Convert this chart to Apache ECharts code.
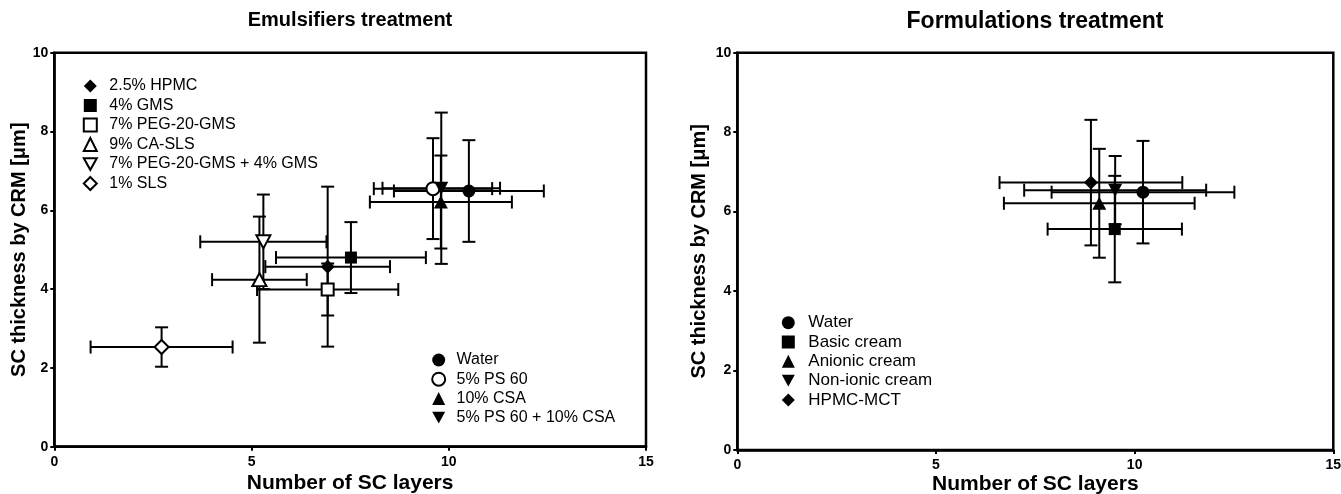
<!DOCTYPE html>
<html>
<head>
<meta charset="utf-8">
<script src="https://cdn.jsdelivr.net/npm/echarts@6/dist/echarts.min.js"></script>
<style>
  html, body { margin: 0; padding: 0; background: #fff; }
  #chart { width: 1341px; height: 494px; }
</style>
</head>
<body>
<div id="chart"></div>
<script>
// Emulsifiers: mean number of SC layers (± SD) against SC thickness by CRM (± SD, µm)
const emulsifierNames = ['2.5% HPMC', '4% GMS', '7% PEG-20-GMS', '9% CA-SLS', '7% PEG-20-GMS + 4% GMS', '1% SLS',
                         'Water', '5% PS 60', '10% CSA', '5% PS 60 + 10% CSA'];
const emulsifierLayers      = [6.93, 7.52, 6.93, 5.20, 5.30, 2.72, 10.51, 9.60, 9.80, 9.81];
const emulsifierLayersSd    = [1.58, 1.90, 1.79, 1.20, 1.60, 1.80, 1.90, 1.50, 1.80, 1.49];
const emulsifierThickness   = [4.57, 4.80, 3.99, 4.24, 5.20, 2.53, 6.49, 6.55, 6.21, 6.56];
const emulsifierThicknessSd = [2.03, 0.90, 0.66, 1.60, 1.20, 0.50, 1.29, 1.28, 1.18, 1.92];

// Formulations: same measures
const formulationNames = ['Water', 'Basic cream', 'Anionic cream', 'Non-ionic cream', 'HPMC-MCT'];
const formulationLayers      = [10.21, 9.50, 9.11, 9.51, 8.90];
const formulationLayersSd    = [2.30, 1.69, 2.40, 2.29, 2.30];
const formulationThickness   = [6.49, 5.56, 6.21, 6.54, 6.73];
const formulationThicknessSd = [1.29, 1.34, 1.37, 0.86, 1.58];

// Axis ranges: [min, max, step]
const layerAxis = [0, 15, 5];
const thicknessAxis = [0, 10, 2];

const FONT = '"Liberation Sans", Arial, Helvetica, sans-serif';
const DOWN_TRIANGLE = 'path://M0,0L20,0L10,18Z';

// Marker look for each treatment
const markerStyle = {
  '2.5% HPMC': { symbol: 'diamond', fill: true },
  '4% GMS': { symbol: 'rect', fill: true },
  '7% PEG-20-GMS': { symbol: 'rect', fill: false },
  '9% CA-SLS': { symbol: 'triangle', fill: false },
  '7% PEG-20-GMS + 4% GMS': { symbol: DOWN_TRIANGLE, fill: false },
  '1% SLS': { symbol: 'diamond', fill: false },
  'Water': { symbol: 'circle', fill: true },
  '5% PS 60': { symbol: 'circle', fill: false },
  '10% CSA': { symbol: 'triangle', fill: true },
  '5% PS 60 + 10% CSA': { symbol: DOWN_TRIANGLE, fill: true },
  'Basic cream': { symbol: 'rect', fill: true },
  'Anionic cream': { symbol: 'triangle', fill: true },
  'Non-ionic cream': { symbol: DOWN_TRIANGLE, fill: true },
  'HPMC-MCT': { symbol: 'diamond', fill: true }
};
function sizeOf(symbol) {
  if (symbol === 'circle') return 13;
  if (symbol === 'rect') return 12;
  if (symbol === 'diamond') return 14;
  return [14, 13];
}

function renderErrorBars(params, api) {
  const x = api.value(0), y = api.value(1), dx = api.value(2), dy = api.value(3);
  const l = api.coord([x - dx, y]), r = api.coord([x + dx, y]);
  const t = api.coord([x, y + dy]), b = api.coord([x, y - dy]);
  const cap = 6.5;
  const style = { stroke: '#000', lineWidth: 2, fill: null };
  const seg = (x1, y1, x2, y2) => ({ type: 'line', shape: { x1, y1, x2, y2 }, style });
  return {
    type: 'group',
    children: [
      seg(l[0], l[1], r[0], r[1]),
      seg(l[0], l[1] - cap, l[0], l[1] + cap),
      seg(r[0], r[1] - cap, r[0], r[1] + cap),
      seg(t[0], t[1], b[0], b[1]),
      seg(t[0] - cap, t[1], t[0] + cap, t[1]),
      seg(b[0] - cap, b[1], b[0] + cap, b[1])
    ]
  };
}

function errorBarSeries(axisIndex, xs, xsd, ys, ysd) {
  return {
    type: 'custom',
    xAxisIndex: axisIndex,
    yAxisIndex: axisIndex,
    z: 1,
    silent: true,
    encode: { x: 0, y: 1 },
    data: xs.map((x, i) => [x, ys[i], xsd[i], ysd[i]]),
    renderItem: renderErrorBars
  };
}

function markerSeries(axisIndex, names, xs, ys) {
  return names.map((name, i) => {
    const m = markerStyle[name];
    return {
      type: 'scatter',
      name: name,
      xAxisIndex: axisIndex,
      yAxisIndex: axisIndex,
      z: 3,
      silent: true,
      symbol: m.symbol,
      symbolSize: sizeOf(m.symbol),
      itemStyle: m.fill
        ? { color: '#000', borderWidth: 0, opacity: 1 }
        : { color: '#fff', borderColor: '#000', borderWidth: 2, opacity: 1 },
      data: [[xs[i], ys[i]]]
    };
  });
}

function valueAxis(axisIndex, range, name, nameGap, nameSize, isX) {
  return {
    type: 'value',
    gridIndex: axisIndex,
    min: range[0],
    max: range[1],
    interval: range[2],
    name: name,
    nameLocation: 'middle',
    nameGap: nameGap,
    nameMoveOverlap: false,
    nameTextStyle: { fontFamily: FONT, fontWeight: 'bold', fontSize: nameSize, color: '#000' },
    axisLine: { show: true, onZero: false, lineStyle: { color: '#000', width: 2.5 } },
    axisTick: { show: true, inside: false, length: 4, lineStyle: { color: '#000', width: 2 } },
    axisLabel: { fontFamily: FONT, fontWeight: 'bold', fontSize: 14, color: '#000', margin: isX ? 8 : 6 },
    splitLine: { show: false }
  };
}

function legendBlock(names, left, top, fontSize, gap, textShift) {
  return {
    data: names.map(name => ({ name: name, icon: markerStyle[name].symbol })),
    orient: 'vertical',
    left: left,
    top: top,
    padding: 0,
    itemWidth: 13,
    itemHeight: 13,
    itemGap: gap,
    selectedMode: false,
    textStyle: { fontFamily: FONT, fontSize: fontSize, lineHeight: fontSize, color: '#000', padding: [0, 0, 0, textShift] }
  };
}

function plotGrid(left, top, width, height) {
  return {
    left, top, width, height,
    containLabel: false,
    outerBoundsMode: 'none',
    show: true,
    borderColor: '#000',
    borderWidth: 2.5,
    backgroundColor: 'transparent'
  };
}

const chart = echarts.init(document.getElementById('chart'), null, { renderer: 'canvas' });

chart.setOption({
  animation: false,
  backgroundColor: '#fff',
  graphic: [
    { type: 'text', x: 350, y: 20, style: { text: 'Emulsifiers treatment', font: 'bold 20px ' + FONT, align: 'center', verticalAlign: 'middle', fill: '#000' } },
    { type: 'text', x: 1035, y: 21.5, style: { text: 'Formulations treatment', font: 'bold 23px ' + FONT, align: 'center', verticalAlign: 'middle', fill: '#000' } }
  ],
  grid: [
    plotGrid(54.3, 52.7, 591.7, 394),
    plotGrid(737.3, 52.7, 596, 397.3)
  ],
  xAxis: [
    valueAxis(0, layerAxis, 'Number of SC layers', 26, 21, true),
    valueAxis(1, layerAxis, 'Number of SC layers', 24, 21, true)
  ],
  yAxis: [
    valueAxis(0, thicknessAxis, 'SC thickness by CRM [\u03bcm]', 25, 20, false),
    valueAxis(1, thicknessAxis, 'SC thickness by CRM [\u03bcm]', 28, 20, false)
  ],
  legend: [
    legendBlock(emulsifierNames.slice(0, 6), 82.8, 78, 16, 3.5, 7.5),
    legendBlock(emulsifierNames.slice(6), 431.2, 352, 16, 3.2, 6.3),
    legendBlock(formulationNames, 781.8, 314.2, 17, 2.3, 8.5)
  ],
  series: [
    errorBarSeries(0, emulsifierLayers, emulsifierLayersSd, emulsifierThickness, emulsifierThicknessSd),
    ...markerSeries(0, emulsifierNames, emulsifierLayers, emulsifierThickness),
    errorBarSeries(1, formulationLayers, formulationLayersSd, formulationThickness, formulationThicknessSd),
    ...markerSeries(1, formulationNames, formulationLayers, formulationThickness)
  ]
});
</script>
</body>
</html>
